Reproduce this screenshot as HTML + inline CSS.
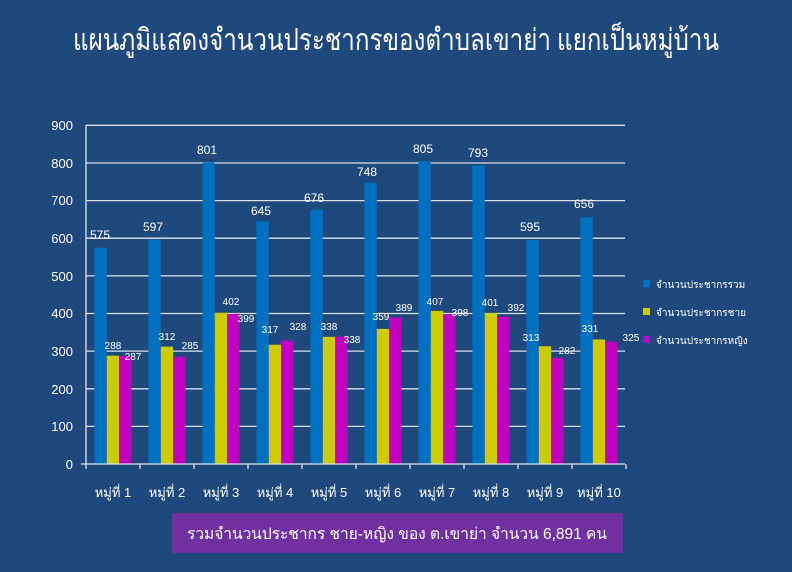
<!DOCTYPE html>
<html><head><meta charset="utf-8"><style>
html,body{margin:0;padding:0;background:#1F497D;}
svg{display:block;font-family:"Liberation Sans","DejaVu Sans",sans-serif;}
</style></head><body>
<svg width="792" height="572" viewBox="0 0 792 572" xmlns="http://www.w3.org/2000/svg">
<rect width="792" height="572" fill="#1F497D"/>
<text x="396" y="50" fill="#fff" font-size="30" text-anchor="middle" textLength="646" lengthAdjust="spacingAndGlyphs" font-family="'Liberation Serif',serif">แผนภูมิแสดงจำนวนประชากรของตำบลเขาย่า แยกเป็นหมู่บ้าน</text>
<g stroke="#D9E1EE" stroke-width="1.3">
<line x1="86" y1="125.3" x2="625" y2="125.3"/>
<line x1="86" y1="163" x2="625" y2="163"/>
<line x1="86" y1="200.6" x2="625" y2="200.6"/>
<line x1="86" y1="238.2" x2="625" y2="238.2"/>
<line x1="86" y1="275.9" x2="625" y2="275.9"/>
<line x1="86" y1="313.5" x2="625" y2="313.5"/>
<line x1="86" y1="351.1" x2="625" y2="351.1"/>
<line x1="86" y1="388.8" x2="625" y2="388.8"/>
<line x1="86" y1="426.4" x2="625" y2="426.4"/>
</g>
<g fill="#fff" font-size="13" text-anchor="end">
<text x="73" y="130">900</text><text x="73" y="168">800</text><text x="73" y="205">700</text><text x="73" y="243">600</text><text x="73" y="281">500</text><text x="73" y="318">400</text><text x="73" y="356">300</text><text x="73" y="394">200</text><text x="73" y="431">100</text><text x="73" y="469">0</text>
</g>
<g id="bars"></g>
<g stroke="#D9E1EE" stroke-width="1.3">
<line x1="86" y1="125" x2="86" y2="469"/>
<line x1="81" y1="464" x2="625" y2="464"/>
<line x1="140" y1="464" x2="140" y2="469"/><line x1="194" y1="464" x2="194" y2="469"/><line x1="248" y1="464" x2="248" y2="469"/><line x1="302" y1="464" x2="302" y2="469"/><line x1="356" y1="464" x2="356" y2="469"/><line x1="410" y1="464" x2="410" y2="469"/><line x1="464" y1="464" x2="464" y2="469"/><line x1="518" y1="464" x2="518" y2="469"/><line x1="572" y1="464" x2="572" y2="469"/><line x1="626" y1="464" x2="626" y2="469"/>
</g>
<g fill="#fff" font-size="13" text-anchor="middle">
<text x="113" y="497">หมู่ที่ 1</text><text x="167" y="497">หมู่ที่ 2</text><text x="221" y="497">หมู่ที่ 3</text><text x="275" y="497">หมู่ที่ 4</text><text x="329" y="497">หมู่ที่ 5</text><text x="383" y="497">หมู่ที่ 6</text><text x="437" y="497">หมู่ที่ 7</text><text x="491" y="497">หมู่ที่ 8</text><text x="545" y="497">หมู่ที่ 9</text><text x="599" y="497">หมู่ที่ 10</text>
</g>
<rect x="643" y="280" width="7" height="7" fill="#0070C0"/>
<rect x="643" y="308" width="7" height="7" fill="#CCCC00"/>
<rect x="643" y="336" width="7" height="7" fill="#C000C0"/>
<g fill="#fff" font-size="10">
<text x="656" y="288">จำนวนประชากรรวม</text>
<text x="656" y="316">จำนวนประชากรชาย</text>
<text x="656" y="344">จำนวนประชากรหญิง</text>
</g>
<rect x="172" y="513" width="451" height="40" fill="#7030A0"/>
<text x="397" y="539" fill="#fff" font-size="16" text-anchor="middle" textLength="420" lengthAdjust="spacingAndGlyphs">รวมจำนวนประชากร ชาย-หญิง ของ ต.เขาย่า จำนวน  6,891 คน</text>
<g id="labels" fill="#fff" text-anchor="middle"></g>
</svg>
<script>
var T=[575,597,801,645,676,748,805,793,595,656],M=[288,312,402,317,338,359,407,401,313,331],F=[287,285,399,328,338,389,398,392,282,325];
var L=[[100,235,113,345,133,356],[153,227,167,336,190,345],[207,150,231,301,246,318],[261,211,270,329,298,326],[314,198,329,326,352,339],[367,172,381,316,404,307],[423,149,435,301,460,312],[478,153,490,302,516,307],[530,227,531,337,567,350],[584,204,590,328,631,337]];
var ns="http://www.w3.org/2000/svg",b=document.getElementById('bars'),l=document.getElementById('labels');
function r(x,v,c){var e=document.createElementNS(ns,'rect');var h=v*0.37625;e.setAttribute('x',x);e.setAttribute('y',464-h);e.setAttribute('width',12.3);e.setAttribute('height',h);e.setAttribute('fill',c);b.appendChild(e);}
function t(x,y,s,fs){var e=document.createElementNS(ns,'text');e.setAttribute('x',x);e.setAttribute('y',y+4);e.setAttribute('font-size',fs);e.textContent=s;l.appendChild(e);}
for(var i=0;i<10;i++){var s=86+54*i+8.5;r(s,T[i],'#0070C0');r(s+12.3,M[i],'#CCCC00');r(s+24.6,F[i],'#C000C0');
t(L[i][0],L[i][1],T[i],12);t(L[i][2],L[i][3],M[i],10);t(L[i][4],L[i][5],F[i],10);}
</script>
</body></html>
